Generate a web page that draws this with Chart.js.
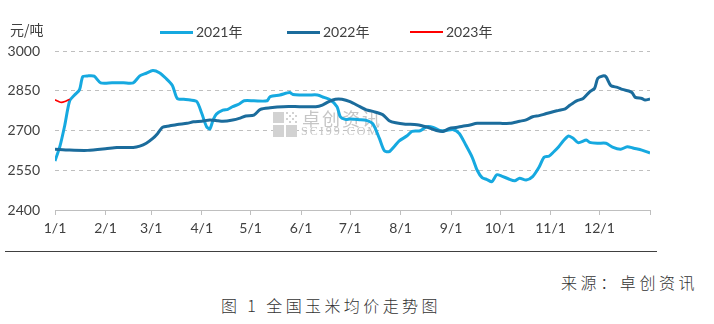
<!DOCTYPE html>
<html>
<head>
<meta charset="utf-8">
<script src="https://cdn.jsdelivr.net/npm/chart.js@4/dist/chart.umd.min.js"></script>
<style>
    body { margin: 0; background: #fff; }
    #wrap { position: relative; width: 714px; height: 324px; overflow: hidden; font-family: Lato, 'Noto Sans CJK SC', sans-serif; color: #404040; }
    #chart { position: absolute; left: 0; top: 0; }
    .unit { position: absolute; left: 10px; top: 19px; font-size: 14px; font-family: 'Noto Sans CJK SC', sans-serif; }
    .legend-item { position: absolute; top: 23px; font-size: 14px; height: 18px; line-height: 18px; }
    .legend-item i { position: absolute; top: 8px; height: 3px; width: 33px; }
    .legend-item span { position: absolute; left: 36px; white-space: nowrap; }
    .rule { position: absolute; left: 5px; top: 251px; width: 652px; height: 0; border-top: 1.5px solid #404040; }
    .source { position: absolute; left: 561px; top: 270px; font-size: 16px; letter-spacing: 3.6px; font-family: 'Noto Sans CJK SC', sans-serif; font-weight: 300; color: #333; white-space: nowrap; }
    .caption { position: absolute; left: 221px; top: 293px; font-size: 16px; letter-spacing: 3.4px; font-family: 'Noto Sans CJK SC', sans-serif; font-weight: 300; color: #333; white-space: nowrap; }
</style>
</head>
<body>
<div id="wrap">
    <canvas id="chart" width="714" height="250"></canvas>
    <div class="unit">元/吨</div>
    <div id="legend"></div>
    <div class="rule"></div>
    <div class="source">来源：卓创资讯</div>
    <div class="caption">图 1 全国玉米均价走势图</div>
</div>
<script>
// day of year (0 = 1/1) and average price, 元/吨
const days2021 = [0, 3, 6, 9, 12, 15, 17, 20, 24, 28, 35, 42, 48, 52, 56, 60, 64, 68, 72, 75, 79, 83, 87, 90, 93, 95, 97, 99, 103, 106, 109, 113, 116, 122, 130, 132, 138, 144, 146, 150, 156, 161, 165, 169, 173, 175, 178, 181, 187, 191, 195, 199, 202, 205, 208, 211, 216, 219, 224, 228, 232, 236, 240, 244, 248, 252, 256, 259, 262, 265, 268, 271, 274, 278, 282, 285, 289, 293, 297, 300, 303, 306, 309, 312, 315, 318, 321, 326, 328, 333, 338, 342, 347, 351, 355, 360, 365];
const price2021 = [2585, 2640, 2720, 2812, 2834, 2853, 2903, 2906, 2905, 2880, 2880, 2880, 2880, 2906, 2916, 2926, 2918, 2897, 2870, 2821, 2818, 2815, 2809, 2765, 2714, 2706, 2740, 2762, 2777, 2780, 2790, 2800, 2812, 2812, 2812, 2828, 2834, 2843, 2836, 2834, 2834, 2834, 2825, 2815, 2790, 2752, 2742, 2743, 2741, 2738, 2725, 2670, 2624, 2620, 2639, 2660, 2680, 2697, 2699, 2714, 2712, 2700, 2700, 2704, 2689, 2645, 2598, 2550, 2522, 2515, 2507, 2533, 2528, 2518, 2510, 2520, 2513, 2526, 2562, 2599, 2603, 2620, 2639, 2662, 2679, 2670, 2654, 2664, 2655, 2652, 2652, 2637, 2629, 2639, 2633, 2626, 2615];

const days2022 = [0, 9, 20, 31, 38, 48, 52, 56, 60, 63, 66, 70, 75, 81, 85, 90, 95, 100, 103, 109, 113, 117, 122, 126, 132, 140, 150, 160, 164, 168, 172, 176, 181, 187, 191, 195, 201, 205, 209, 215, 222, 228, 234, 238, 242, 246, 250, 254, 259, 266, 273, 279, 285, 289, 293, 297, 301, 305, 309, 313, 316, 320, 324, 328, 331, 333, 336, 338, 341, 345, 348, 352, 354, 356, 360, 362, 365];
const price2022 = [2629, 2626, 2625, 2631, 2636, 2636, 2641, 2652, 2670, 2689, 2712, 2717, 2723, 2727, 2733, 2735, 2740, 2737, 2735, 2740, 2746, 2755, 2758, 2780, 2786, 2790, 2790, 2790, 2796, 2809, 2818, 2818, 2809, 2790, 2778, 2772, 2760, 2737, 2729, 2724, 2722, 2713, 2700, 2696, 2708, 2711, 2716, 2720, 2727, 2727, 2727, 2727, 2735, 2740, 2752, 2756, 2763, 2770, 2776, 2782, 2796, 2812, 2821, 2846, 2859, 2897, 2906, 2903, 2869, 2863, 2855, 2849, 2843, 2825, 2821, 2815, 2819];

const days2023 = [0, 2, 4, 6, 8, 9];
const price2023 = [2816, 2810, 2806, 2809, 2815, 2818];

const seriesNames = ['2021年', '2022年', '2023年'];
const seriesColors = ['#16A9E0', '#1B6C9C', '#FF0000'];
const seriesWidths = [3, 3, 1.6];

const monthStarts = [0, 31, 59, 90, 120, 151, 181, 212, 243, 273, 304, 334, 365];
const monthLabels = ['1/1', '2/1', '3/1', '4/1', '5/1', '6/1', '7/1', '8/1', '9/1', '10/1', '11/1', '12/1', ''];

const yTicks = [2400, 2550, 2700, 2850, 3000];

const toPoints = (xs, ys) => xs.map((d, i) => ({ x: d, y: ys[i] }));
const allDays = [days2021, days2022, days2023];
const allPrices = [price2021, price2022, price2023];

// html legend
const legend = document.getElementById('legend');
const legendLeft = [160, 287, 410];
seriesNames.forEach((name, i) => {
    const item = document.createElement('div');
    item.className = 'legend-item';
    item.style.left = legendLeft[i] + 'px';
    item.innerHTML = `<i style="background:${seriesColors[i]};height:${i === 2 ? 2 : 3}px"></i><span>${name}</span>`;
    legend.appendChild(item);
});

// faint 卓创资讯 watermark behind the lines
const watermark = {
    id: 'watermark',
    beforeDatasetsDraw(chart) {
        const ctx = chart.ctx;
        ctx.save();
        ctx.fillStyle = '#D2D2D2';
        ctx.fillRect(273, 112, 11, 11);
        ctx.fillRect(273, 125, 11, 12);
        ctx.fillRect(286, 125, 11, 12);
        for (let r = 0; r < 4; r++) {
            for (let c = 0; c < 4; c++) {
                if ((r + c) % 2 === 0) ctx.fillRect(286 + c * 3, 112 + r * 3, 2, 2);
            }
        }
        ctx.fillStyle = '#C6C6C6';
        ctx.textBaseline = 'middle';
        ctx.font = '18px "Noto Sans CJK SC"';
        ctx.letterSpacing = '2px';
        ctx.fillText('卓创资讯', 302, 119);
        ctx.font = '12px "Liberation Serif"';
        ctx.letterSpacing = '2px';
        ctx.fillText('SCI99.COM', 301, 132);
        ctx.restore();
    }
};

new Chart(document.getElementById('chart'), {
    type: 'line',
    data: {
        datasets: seriesNames.map((name, i) => ({
            label: name,
            data: toPoints(allDays[i], allPrices[i]),
            borderColor: seriesColors[i],
            backgroundColor: seriesColors[i],
            borderWidth: seriesWidths[i],
            pointRadius: 0,
            tension: 0.25,
            fill: false
        })).reverse()
    },
    options: {
        responsive: false,
        animation: false,
        devicePixelRatio: 1,
        layout: { padding: { top: 51, right: 64, left: 0, bottom: 0 } },
        plugins: {
            legend: { display: false },
            tooltip: { enabled: false }
        },
        scales: {
            x: {
                type: 'linear',
                min: 0,
                max: 365,
                afterBuildTicks: (scale) => {
                    scale.ticks = monthStarts.map(v => ({ value: v }));
                },
                afterFit: (scale) => { scale.height = 40; },
                grid: {
                    drawOnChartArea: false,
                    drawTicks: true,
                    tickLength: 5,
                    color: '#BFBFBF'
                },
                border: { color: '#BFBFBF', width: 1 },
                ticks: {
                    autoSkip: false,
                    maxRotation: 0,
                    padding: 5,
                    color: '#404040',
                    font: { family: 'Lato', size: 14 },
                    callback: (value) => {
                        const idx = monthStarts.indexOf(value);
                        return idx >= 0 ? monthLabels[idx] : '';
                    }
                }
            },
            y: {
                min: 2400,
                max: 3000,
                afterBuildTicks: (scale) => {
                    scale.ticks = yTicks.map(v => ({ value: v }));
                },
                afterFit: (scale) => { scale.width = 55; },
                grid: {
                    drawTicks: false,
                    color: '#BFBFBF',
                    lineWidth: 1
                },
                border: { display: false, dash: [4, 4] },
                ticks: {
                    padding: 15,
                    color: '#404040',
                    font: { family: 'Lato', size: 14 },
                    callback: (value) => String(value)
                }
            }
        }
    },
    plugins: [watermark]
});
</script>
</body>
</html>
